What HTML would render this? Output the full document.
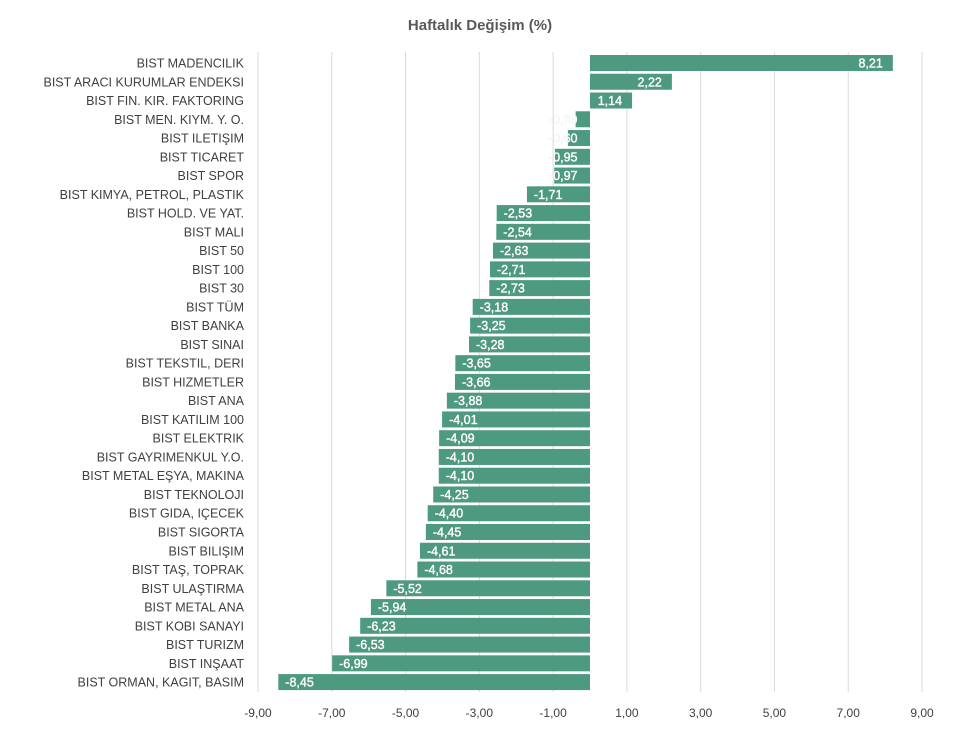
<!DOCTYPE html>
<html><head><meta charset="utf-8">
<style>
body{margin:0;background:#fff;}
svg{display:block;font-family:"Liberation Sans",sans-serif;}
</style></head>
<body>
<svg id="c" width="960" height="730" xmlns="http://www.w3.org/2000/svg">
<rect width="960" height="730" fill="#fff"/>
<text x="480" y="30" text-anchor="middle" font-size="15" font-weight="bold" fill="#595959">Haftalık Değişim (%)</text>
<g id="grid"></g>
<g id="bars"></g>
<g id="labs"></g>
</svg>
<script>
var data=[["BIST MADENCILIK",8.21],["BIST ARACI KURUMLAR ENDEKSI",2.22],["BIST FIN. KIR. FAKTORING",1.14],["BIST MEN. KIYM. Y. O.",-0.39],["BIST ILETIŞIM",-0.60],["BIST TICARET",-0.95],["BIST SPOR",-0.97],["BIST KIMYA, PETROL, PLASTIK",-1.71],["BIST HOLD. VE YAT.",-2.53],["BIST MALI",-2.54],["BIST 50",-2.63],["BIST 100",-2.71],["BIST 30",-2.73],["BIST TÜM",-3.18],["BIST BANKA",-3.25],["BIST SINAI",-3.28],["BIST TEKSTIL, DERI",-3.65],["BIST HIZMETLER",-3.66],["BIST ANA",-3.88],["BIST KATILIM 100",-4.01],["BIST ELEKTRIK",-4.09],["BIST GAYRIMENKUL Y.O.",-4.10],["BIST METAL EŞYA, MAKINA",-4.10],["BIST TEKNOLOJI",-4.25],["BIST GIDA, IÇECEK",-4.40],["BIST SIGORTA",-4.45],["BIST BILIŞIM",-4.61],["BIST TAŞ, TOPRAK",-4.68],["BIST ULAŞTIRMA",-5.52],["BIST METAL ANA",-5.94],["BIST KOBI SANAYI",-6.23],["BIST TURIZM",-6.53],["BIST INŞAAT",-6.99],["BIST ORMAN, KAGIT, BASIM",-8.45]];
var ns="http://www.w3.org/2000/svg";
function el(t,a,txt){var e=document.createElementNS(ns,t);for(var k in a)e.setAttribute(k,a[k]);if(txt!=null)e.textContent=txt;return e;}
var x0=590,u=664/18,g=document.getElementById('grid'),b=document.getElementById('bars'),L=document.getElementById('labs');
for(var v=-9;v<=9;v+=2){var x=x0+v*u;g.appendChild(el('line',{x1:x,x2:x,y1:52,y2:692,stroke:'#d9d9d9','stroke-width':1}));
g.appendChild(el('text',{x:x,y:717,'text-anchor':'middle','font-size':12,fill:'#404040'},v.toFixed(2).replace('.',',')));}
function f(v){return v.toFixed(2).replace('.',',');}
var st={'font-size':12.5,fill:'#fff',stroke:'#e0e0e0','stroke-width':0.5,'paint-order':'stroke'};
data.forEach(function(d,i){var y=63+i*18.76,v=d[1];
b.appendChild(el('text',{x:244,y:y+4.5,'text-anchor':'end','font-size':12.5,fill:'#404040'},d[0]));
var xs=x0+Math.min(0,v)*u,w=Math.abs(v)*u;
b.appendChild(el('rect',{x:xs,y:y-8,width:w,height:16,fill:'#4e9a81'}));
var a=Object.assign({},st,{y:y+4.5});
if(v>0){a.x=xs+w-10;a['text-anchor']='end';L.appendChild(el('text',a,f(v)));}
else{a.x=Math.min(xs+7,x0-41);L.appendChild(el('text',a,f(v)));}
});
</script>
</body></html>
